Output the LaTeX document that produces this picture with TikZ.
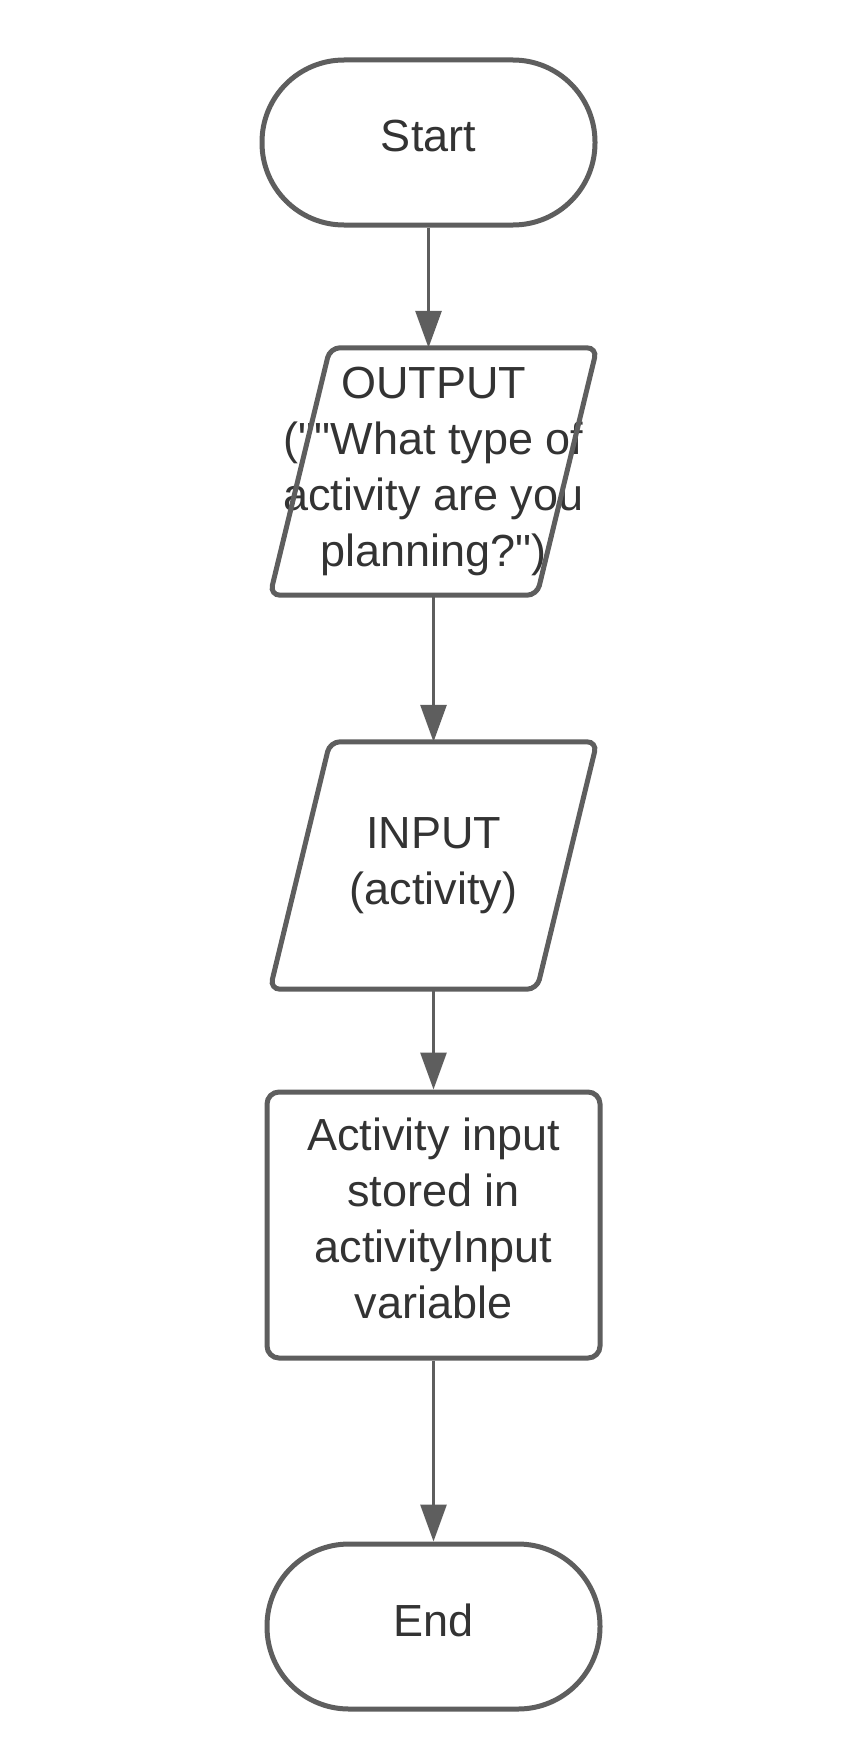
\documentclass[tikz,border=0pt]{standalone}
\usepackage{fontspec}
\newfontfamily\chartfont{Liberation Sans}
\usetikzlibrary{arrows.meta}
\definecolor{edgegray}{HTML}{5E5E5E}
\definecolor{inkgray}{HTML}{333333}
\begin{document}
\begin{tikzpicture}[x=1pt,y=-1pt,
	every node/.style={text=inkgray,font=\chartfont\fontsize{45}{56}\selectfont,align=center},
	terminal/.style={draw=edgegray,line width=5pt,rectangle,rounded corners=82pt,minimum width=333pt,minimum height=165pt,text depth=13pt},
	iotext/.style={rectangle,minimum width=267pt,minimum height=247pt},
	iobox/.style={draw=edgegray,line width=5pt,rounded corners=10pt},
	procbox/.style={draw=edgegray,line width=5pt,rectangle,rounded corners=12pt,minimum width=333pt,minimum height=266pt,text depth=13pt},
	flow/.style={draw=edgegray,line width=3pt,-{Triangle[length=37pt,width=26pt]}}]
	
	\useasboundingbox (0,0) rectangle (858,1753);
	
	\node[terminal] (start) at (428.5,142.5) {Start};
	\node[iotext] (out) at (433.5,471.5) {OUTPUT\\(\textquotedbl\textquotedbl What type of\\activity are you\\planning?\textquotedbl)};
	\node[iotext] (in) at (433.5,865.5) {INPUT\\(activity)};
	\node[procbox] (store) at (433.5,1225) {Activity input\\stored in\\activityInput\\variable};
	\node[terminal] (end) at (433.5,1626.5) {End};
	
	% parallelograms behind the io texts
	\foreach \n in {out,in}
	{
		\draw[iobox] ([xshift=-103.5pt]\n.north) -- ([xshift=163.5pt]\n.north) -- ([xshift=103.5pt]\n.south) -- ([xshift=-163.5pt]\n.south) -- cycle;
	}
	
	\draw[flow] (start) -- (start |- out.north);
	\draw[flow] (out) -- (in);
	\draw[flow] (in) -- (store);
	\draw[flow] (store) -- (end);
\end{tikzpicture}
\end{document}
